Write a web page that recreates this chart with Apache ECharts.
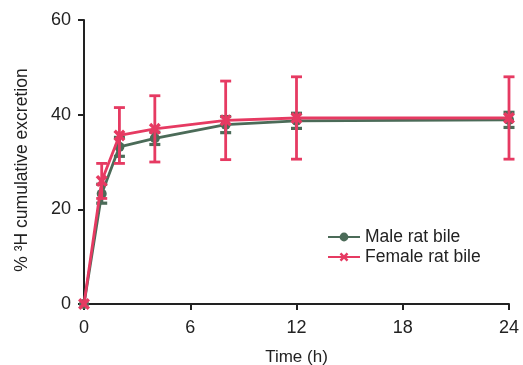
<!DOCTYPE html>
<html><head><meta charset="utf-8">
<script src="https://cdn.jsdelivr.net/npm/echarts@6/dist/echarts.min.js"></script>
<style>html,body{margin:0;padding:0;background:#fff}#c{width:523px;height:365px}</style>
</head><body><div id="c"></div>
<script>
const times = [0, 1, 2, 4, 8, 12, 24];
const maleMean = [0, 23.3, 33.2, 35.0, 37.9, 38.7, 38.9];
const maleSD = [0, 2.0, 2.0, 1.3, 1.7, 1.6, 1.6];
const femaleMean = [0, 26.0, 35.6, 37.0, 38.8, 39.3, 39.3];
const femaleSD = [0, 3.7, 5.9, 7.0, 8.3, 8.7, 8.7];
const xTicks = [0, 6, 12, 18, 24];
const yTicks = [0, 20, 40, 60];

const green = '#4b6b58', red = '#e63a62';
const font = 'Liberation Sans';
const xPath = 'path://M2,0 L5,3 L8,0 L10,2 L7,5 L10,8 L8,10 L5,7 L2,10 L0,8 L3,5 L0,2 Z';

function errData(mean, sd){ return times.map((t,i)=>[t, mean[i]-sd[i], mean[i]+sd[i]]); }
function errRender(color, lw){
  return function(params, api){
    const x = api.value(0), lo = api.value(1), hi = api.value(2);
    if (hi - lo < 0.01) return;
    const pl = api.coord([x, lo]), ph = api.coord([x, hi]);
    const w = 5.5;
    const st = {stroke: color, lineWidth: lw};
    return {type:'group', children:[
      {type:'line', shape:{x1:pl[0],y1:pl[1],x2:ph[0],y2:ph[1]}, style:st},
      {type:'line', shape:{x1:pl[0]-w,y1:pl[1],x2:pl[0]+w,y2:pl[1]}, style:st},
      {type:'line', shape:{x1:ph[0]-w,y1:ph[1],x2:ph[0]+w,y2:ph[1]}, style:st}
    ]};
  };
}

const chart = echarts.init(document.getElementById('c'), null, {renderer:'canvas'});
chart.setOption({
  animation: false,
  grid: {left: 84, right: 14, top: 20, bottom: 61, containLabel: false, outerBoundsMode: 'none'},
  legend: {
    data: ['Male rat bile', 'Female rat bile'],
    orient: 'vertical', left: 322, top: 223, itemGap: 2, itemWidth: 32, itemHeight: 11,
    textStyle: {fontFamily: font, fontSize: 17.5, color: '#222'}
  },
  xAxis: {
    type: 'value', min: 0, max: 24, interval: 6,
    name: 'Time (h)', nameLocation: 'middle', nameGap: 45,
    nameTextStyle: {fontFamily: font, fontSize: 17, color: '#222'},
    axisLine: {show: true, lineStyle: {color: '#222', width: 2}},
    axisTick: {show: true, length: 6, lineStyle: {color: '#222', width: 2}},
    axisLabel: {fontFamily: font, fontSize: 18, color: '#222', margin: 15},
    splitLine: {show: false}
  },
  yAxis: {
    type: 'value', min: 0, max: 60, interval: 20,
    name: '% \u00B3H cumulative excretion', nameLocation: 'middle', nameGap: 53,
    nameTextStyle: {fontFamily: font, fontSize: 17.5, color: '#222', padding: [0, 16, 0, 0]},
    axisLine: {show: true, lineStyle: {color: '#222', width: 2}},
    axisTick: {show: true, length: 6, lineStyle: {color: '#222', width: 2}},
    axisLabel: {fontFamily: font, fontSize: 18, color: '#222', margin: 13},
    splitLine: {show: false}
  },
  series: [
    {name: 'Male rat bile', type: 'line', data: times.map((t,i)=>[t, maleMean[i]]),
     symbol: 'circle', symbolSize: 10, itemStyle: {color: green},
     lineStyle: {color: green, width: 2.8}, z: 2},
    {type: 'custom', data: errData(maleMean, maleSD), renderItem: errRender(green, 3.2),
     encode: {x: 0, y: [1, 2]}, z: 3, silent: true},
    {name: 'Female rat bile', type: 'line', data: times.map((t,i)=>[t, femaleMean[i]]),
     symbol: xPath, symbolSize: 12, itemStyle: {color: red},
     lineStyle: {color: red, width: 2.8}, z: 4},
    {type: 'custom', data: errData(femaleMean, femaleSD), renderItem: errRender(red, 2.8),
     encode: {x: 0, y: [1, 2]}, z: 5, silent: true}
  ]
});
</script></body></html>
